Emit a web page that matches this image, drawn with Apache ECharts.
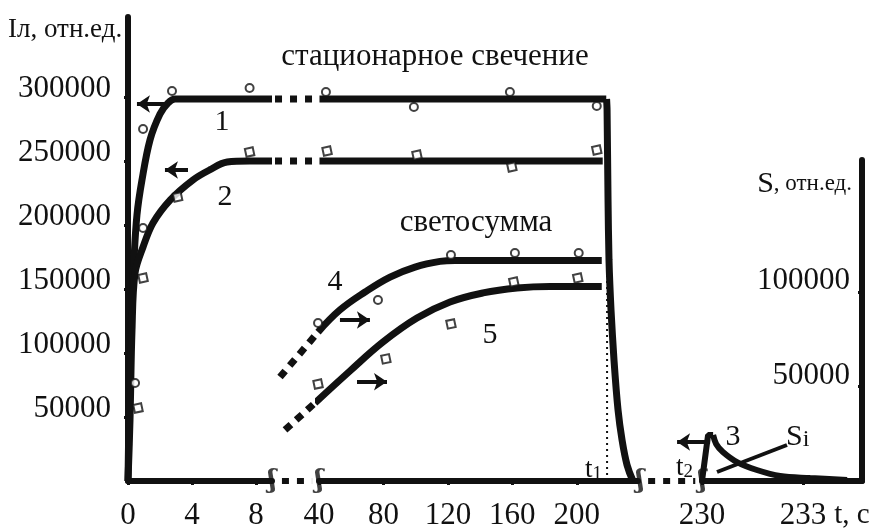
<!DOCTYPE html>
<html><head><meta charset="utf-8">
<script src="https://cdn.jsdelivr.net/npm/echarts@6/dist/echarts.min.js"></script>
<style>html,body{margin:0;padding:0;background:#fff}#c{width:878px;height:529px}</style>
</head><body><div id="c"></div>
<script>
// ---------- tick values ----------
const xTicksA = [0, 4, 8];
const xTicksB = [40, 80, 120, 160, 200];
const xTicksC = [230, 233];
const iTicks = [50000, 100000, 150000, 200000, 250000, 300000];
const sTicks = [50000, 100000];

// ---------- curve 1 (I, stationary glow) ----------
const curve1A = [[0,0],[0.06,47700],[0.19,118000],[0.375,172700],[0.56,207800],[0.875,235200],[1.375,266400],[2.0,286700],[2.5,295300],[2.94,298400],[9,298400]];
const curve1Gap = [[12.7,298400],[36.9,298400]];
const curve1B = [[40.3,298400],[218.3,298400]];
const curve1Drop = [[218.5,298400],[218.8,290000],[219.4,219500],[220.0,172700],[221.25,133600],[223.1,94500],[225.6,55500],[228.1,32000],[231.2,12500],[234.9,0]];
const pts1A = [[0.44,76600],[0.94,197700],[0.94,275000],[2.75,304700],[7.6,307000]];
const pts1B = [[44.3,303900],[98.9,292200],[158.5,303900],[212.4,293000]];

// ---------- curve 2 (I, stationary glow) ----------
const curve2A = [[0,0],[0.125,47700],[0.25,118000],[0.44,162500],[0.94,182800],[1.56,201600],[2.63,219500],[4.06,235200],[5.1,243000],[6.2,249200],[7.6,250000],[9,250000]];
const curve2Gap = [[12.7,250000],[36.9,250000]];
const curve2B = [[40.3,250000],[216.1,250000]];
const pts2A = [[0.625,57000],[0.94,158600],[3.1,221900],[7.6,257000]];
const pts2B = [[45,257800],[100.8,254700],[159.7,245300],[212.4,258600]];

// ---------- curve 3 (afterglow after t2) ----------
const curve3Rise = [[230.0,0],[230.18,35900],[230.33,35900]];
const curve3 = [[230.33,35900],[230.42,29000],[230.62,22700],[231.04,14800],[231.63,8600],[232.32,3900],[233.21,2300],[234.31,800]];

// ---------- curves 4, 5 (S, light sum) ----------
const curve4Dash = [[15.8,55000],[39.4,78800]];
const curve4 = [[39.4,78800],[53.0,90500],[68.6,100000],[84.1,107900],[99.6,113200],[115.1,116200],[124.4,116700],[215.5,116700]];
const pts4 = [[39.4,83600],[76.6,95800],[121.9,119600],[161.6,120600],[201.2,120600]];
const curve5Dash = [[18.9,27000],[37.5,41300]];
const curve5 = [[37.5,41300],[59.2,58200],[79.7,73500],[100.8,86200],[121.3,94700],[141.8,99500],[162.9,102100],[183.4,102900],[215.5,102900]];
const pts5 = [[39.4,51300],[81.5,64600],[121.9,83100],[160.9,105300],[200.6,107400]];

// ---------- t1 marker, arrows, axis-break links ----------
const t1Line = [[218.8,0],[218.8,200000]];
const arrowsA = [[[2.44,294500],[0.56,294500]], [[3.75,243000],[2.31,243000]]];
const arrowsB = [[[53.0,85200],[71.6,85200]], [[63.6,52500],[82.2,52500]]];
const arrowsC = [[[230.24,30500],[229.26,30500]]];
const baseGapB = [[17.0,0],[35.7,0]];
const baseGapC = [[228.4,0],[229.8,0]];
const breaksA = [[9,0]];
const breaksB = [[40,0],[239.3,0]];
const breaksC = [[230,0]];

const INK = '#111';
const SERIF = '"Liberation Serif","Times New Roman",serif';

function ln(data, xi, yi, extra) {
  return Object.assign({type:'line', data, xAxisIndex:xi, yAxisIndex:yi, symbol:'none', showSymbol:false, clip:false,
    lineStyle:{color:INK, width:7, cap:'butt'}, z:3, animation:false}, extra || {});
}
function pts(data, xi, yi, sym) {
  return {type:'scatter', data, xAxisIndex:xi, yAxisIndex:yi, clip:false, symbol: sym,
    symbolSize: 8, symbolRotate: sym === 'emptyRect' ? 12 : 0,
    itemStyle:{color:INK, borderColor:INK, borderWidth:2.8}, z:5, animation:false};
}
function arrows(list, xi, yi) {
  return {type:'lines', coordinateSystem:'cartesian2d', xAxisIndex:xi, yAxisIndex:yi, clip:false,
    symbol:['none','arrow'], symbolSize:13, lineStyle:{color:INK, width:4, opacity:1, curveness:0},
    data: list.map(c => ({coords:c})), z:4, animation:false};
}
function brk(list, xi, yi) {
  return {type:'scatter', data:list, xAxisIndex:xi, yAxisIndex:yi, clip:false, symbolSize:1,
    itemStyle:{color:'rgba(0,0,0,0)'},
    label:{show:true, position:'inside', formatter:'ʃ', color:INK, fontSize:26, fontWeight:'bold', fontFamily:'"DejaVu Serif",serif'},
    z:6, animation:false};
}

const axisLbl = {color:INK, fontSize:31, fontFamily:SERIF, formatter: v => String(v)};
const grids = [
  {left:128, top:17, width:144, height:464},   // 0: 0–9 s
  {left:319, top:17, width:319, height:464},   // 1: 40–238 s
  {left:702, top:160, width:160, height:321},  // 2: 230–234.75 s
  {left:272, top:17, width:47, height:464},    // 3: link A→B
  {left:638, top:17, width:64, height:464}     // 4: link B→C
].map(g => Object.assign(g, {containLabel:false, outerBoundsMode:'none'}));

const xAx = (gi, min, max, ticks) => ({type:'value', gridIndex:gi, min, max,
  axisLine:{show:true, onZero:false, lineStyle:{color:INK, width:6}},
  axisTick:{show:true, customValues:ticks, length:4, lineStyle:{color:INK, width:3}},
  axisLabel:Object.assign({customValues:ticks, margin:19}, axisLbl),
  splitLine:{show:false}});
const hidX = (gi, min, max) => ({type:'value', gridIndex:gi, min, max, show:false, splitLine:{show:false}});
const hidY = (gi, max) => ({type:'value', gridIndex:gi, min:0, max, show:false, splitLine:{show:false}});

const option = {
  backgroundColor:'#fff',
  animation:false,
  grid: grids,
  xAxis: [
    xAx(0, 0, 9, xTicksA),
    xAx(1, 40, 238, xTicksB),
    xAx(2, 230, 234.752, xTicksC),
    hidX(3, 10.828, 40),
    hidX(4, 228.099, 230)
  ],
  yAxis: [
    {type:'value', gridIndex:0, min:0, max:362500, position:'left',
      axisLine:{show:true, onZero:false, lineStyle:{color:INK, width:6}},
      axisTick:{show:true, customValues:iTicks, length:4, lineStyle:{color:INK, width:3}},
      axisLabel:Object.assign({customValues:iTicks, margin:17, verticalAlign:'bottom', lineHeight:16}, axisLbl),
      splitLine:{show:false}},
    hidY(1, 362500),
    hidY(1, 245503),
    hidY(2, 250781.25),
    {type:'value', gridIndex:2, min:0, max:169841, position:'right',
      axisLine:{show:true, onZero:false, lineStyle:{color:INK, width:6}},
      axisTick:{show:true, inside:true, customValues:sTicks, length:4, lineStyle:{color:INK, width:3}},
      axisLabel:Object.assign({customValues:sTicks, inside:true, margin:12, verticalAlign:'bottom', lineHeight:22}, axisLbl),
      splitLine:{show:false}},
    hidY(3, 362500),
    hidY(3, 245503),
    hidY(4, 362500)
  ],
  series: [
    ln(curve1A, 0, 0, {smooth:0.35}),
    ln(curve2A, 0, 0, {smooth:0.35}),
    ln(curve1Gap, 3, 5, {lineStyle:{color:INK, width:7, type:[7,8]}}),
    ln(curve2Gap, 3, 5, {lineStyle:{color:INK, width:7, type:[7,8]}}),
    ln(curve1B, 1, 1),
    ln(curve2B, 1, 1),
    ln(curve1Drop, 1, 1, {smooth:0.25}),
    ln(t1Line, 1, 1, {lineStyle:{color:INK, width:2, type:[2,4]}, z:2}),
    ln(curve4Dash, 3, 6, {lineStyle:{color:INK, width:7, type:[8,7]}}),
    ln(curve4, 1, 2, {smooth:0.4}),
    ln(curve5Dash, 3, 6, {lineStyle:{color:INK, width:7, type:[8,7]}}),
    ln(curve5, 1, 2, {smooth:0.4}),
    ln(curve3Rise, 2, 3, {lineStyle:{color:INK, width:6}}),
    ln(curve3, 2, 3, {smooth:0.35, lineStyle:{color:INK, width:6}}),
    ln(baseGapB, 3, 5, {lineStyle:{color:INK, width:6, type:[7,8]}}),
    ln(baseGapC, 4, 7, {lineStyle:{color:INK, width:6, type:[7,8]}}),
    pts(pts1A, 0, 0, 'emptyCircle'),
    pts(pts2A, 0, 0, 'emptyRect'),
    pts(pts1B, 1, 1, 'emptyCircle'),
    pts(pts2B, 1, 1, 'emptyRect'),
    pts(pts4, 1, 2, 'emptyCircle'),
    pts(pts5, 1, 2, 'emptyRect'),
    arrows(arrowsA, 0, 0),
    arrows(arrowsB, 1, 2),
    arrows(arrowsC, 2, 3),
    brk(breaksA, 0, 0),
    brk(breaksB, 1, 1),
    brk(breaksC, 2, 3)
  ],
  graphic: [
    {type:'text', x:8, y:30, style:{text:'Iл, отн.ед.', fill:INK, font:'27px ' + SERIF, textAlign:'left', textVerticalAlign:'middle'}},
    {type:'text', x:435, y:57, style:{text:'стационарное свечение', fill:INK, font:'31px ' + SERIF, textAlign:'center', textVerticalAlign:'middle'}},
    {type:'text', x:476, y:223, style:{text:'светосумма', fill:INK, font:'31px ' + SERIF, textAlign:'center', textVerticalAlign:'middle'}},
    {type:'text', x:222, y:122, style:{text:'1', fill:INK, font:'30px ' + SERIF, textAlign:'center', textVerticalAlign:'middle'}},
    {type:'text', x:225, y:197, style:{text:'2', fill:INK, font:'30px ' + SERIF, textAlign:'center', textVerticalAlign:'middle'}},
    {type:'text', x:335, y:282, style:{text:'4', fill:INK, font:'30px ' + SERIF, textAlign:'center', textVerticalAlign:'middle'}},
    {type:'text', x:490, y:335, style:{text:'5', fill:INK, font:'30px ' + SERIF, textAlign:'center', textVerticalAlign:'middle'}},
    {type:'text', x:733, y:437, style:{text:'3', fill:INK, font:'30px ' + SERIF, textAlign:'center', textVerticalAlign:'middle'}},
    {type:'text', x:786, y:437, style:{text:'{a|S}{b|i}', fill:INK, textAlign:'left', textVerticalAlign:'middle',
      rich:{a:{fontSize:30, fontFamily:SERIF, fill:INK}, b:{fontSize:24, fontFamily:SERIF, fill:INK, padding:[6,0,0,0]}}}},
    {type:'text', x:585, y:470, style:{text:'{a|t}{b|1}', fill:INK, textAlign:'left', textVerticalAlign:'middle',
      rich:{a:{fontSize:27, fontFamily:SERIF, fill:INK}, b:{fontSize:19, fontFamily:SERIF, fill:INK, padding:[8,0,0,0]}}}},
    {type:'text', x:676, y:468, style:{text:'{a|t}{b|2}', fill:INK, textAlign:'left', textVerticalAlign:'middle',
      rich:{a:{fontSize:27, fontFamily:SERIF, fill:INK}, b:{fontSize:19, fontFamily:SERIF, fill:INK, padding:[8,0,0,0]}}}},
    {type:'text', x:852, y:184, style:{text:'{a|S}{b|, отн.ед.}', fill:INK, textAlign:'right', textVerticalAlign:'middle',
      rich:{a:{fontSize:30, fontFamily:SERIF, fill:INK}, b:{fontSize:23, fontFamily:SERIF, fill:INK}}}},
    {type:'text', x:852, y:515, style:{text:'t, c', fill:INK, font:'29px ' + SERIF, textAlign:'center', textVerticalAlign:'middle'}},
    {type:'line', shape:{x1:787, y1:445, x2:717, y2:472}, style:{stroke:INK, lineWidth:4}}
  ]
};
const chart = echarts.init(document.getElementById('c'));
chart.setOption(option);
</script>
</body></html>
